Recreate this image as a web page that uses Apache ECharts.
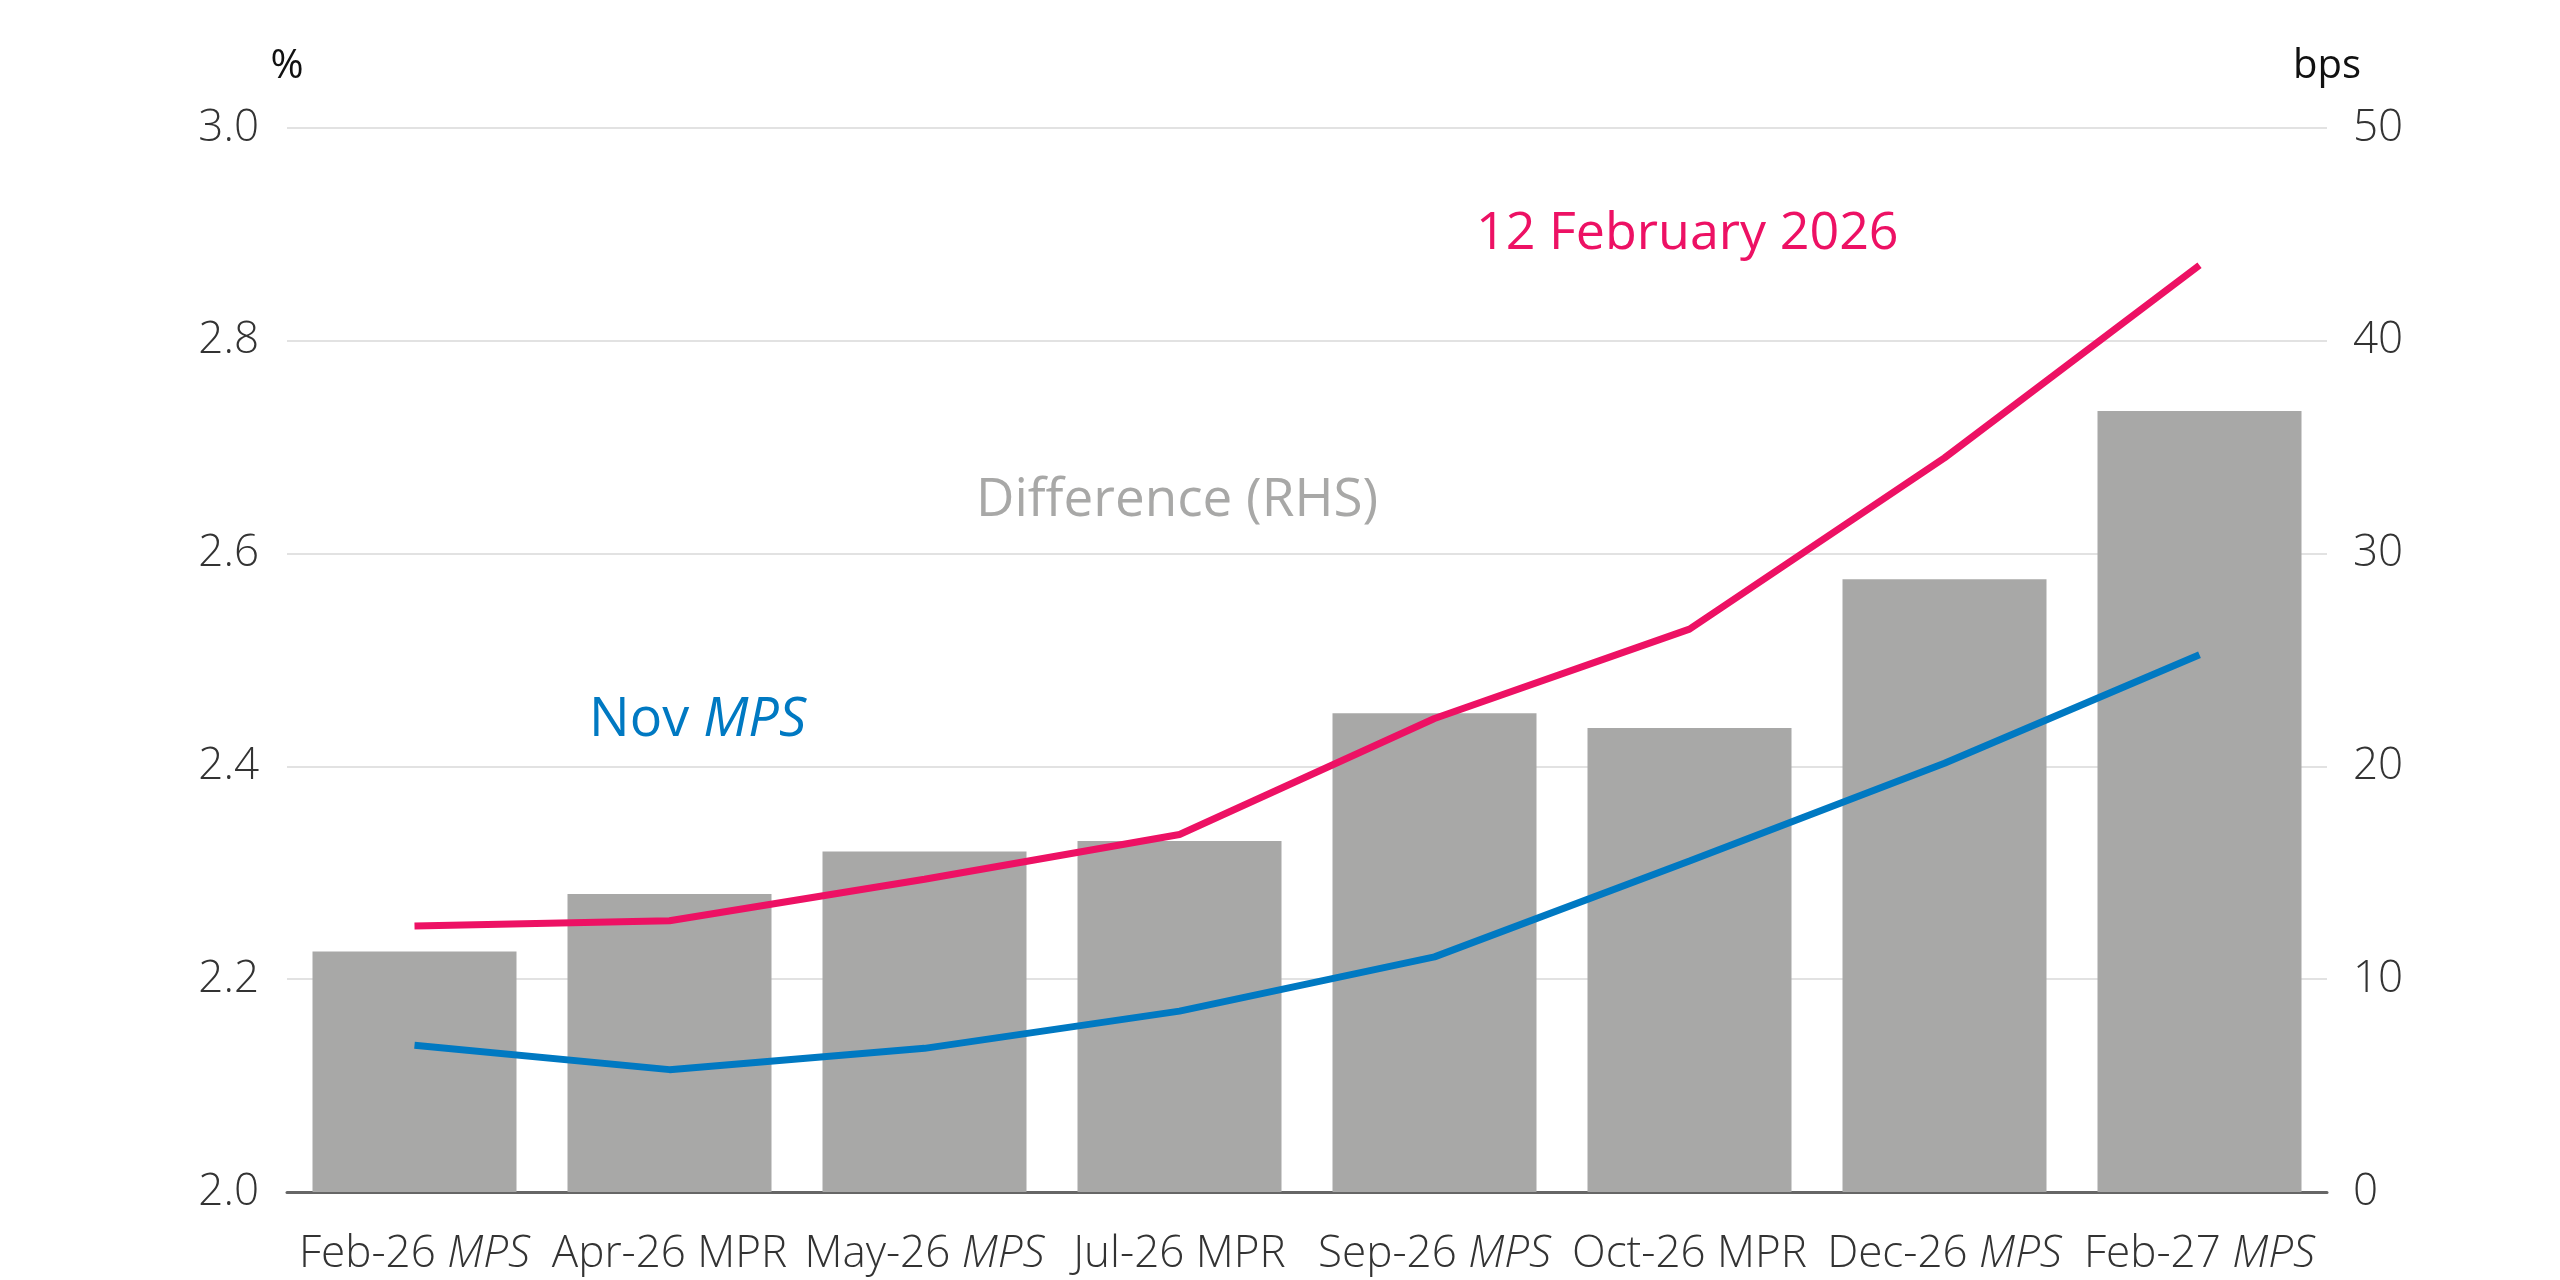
<!DOCTYPE html>
<html>
<head>
<meta charset="utf-8">
<title>Market rate path</title>
<script src="https://cdn.jsdelivr.net/npm/echarts@6/dist/echarts.min.js"></script>
<style>
body{
margin:0;
background:#fff;
}
#chart{
width:2560px;
height:1280px;
}
</style>
</head>
<body>

<div id="chart"></div>

<script>

// meeting dates on the x axis
const categories=['Feb-26 MPS','Apr-26 MPR','May-26 MPS','Jul-26 MPR','Sep-26 MPS','Oct-26 MPR','Dec-26 MPS','Feb-27 MPS']

// implied rate paths, %
const latest=[2.250,2.255,2.294,2.336,2.445,2.529,2.690,2.871]
const novMps=[2.138,2.115,2.135,2.170,2.221,2.311,2.403,2.505]

// difference, bps (right axis)
const diff=[11.3,14.0,16.0,16.5,22.5,21.8,28.8,36.7]

const font='"Open Sans", "Noto Sans", sans-serif'
const pink='#ed1164'
const blue='#0079c2'
const grey='#a8a8a7'

const chart=echarts.init(document.getElementById('chart'))

chart.setOption({

animation:false,

grid:{left:287,right:233,top:128,bottom:88},

xAxis:{
type:'category',
data:categories,
axisLine:{lineStyle:{color:'#666',width:3}},
axisTick:{length:15,lineStyle:{color:'#444',width:2}},
axisLabel:{
interval:0,
margin:40,
fontFamily:font,
fontSize:44,
fontWeight:300,
color:'#333',
formatter:function(v){
const parts=v.split(' ')
if(parts[1]==='MPS'){
return '{a|'+parts[0]+' }{i|MPS}'
}
return '{a|'+v+'}'
},
rich:{
a:{fontFamily:font,fontSize:44,fontWeight:300,color:'#333'},
i:{fontFamily:font,fontSize:44,fontWeight:300,fontStyle:'italic',color:'#333'}
}
}
},

yAxis:[
{
type:'value',
min:2,
max:3,
interval:0.2,
name:'%',
nameLocation:'end',
nameGap:61,
nameTextStyle:{fontFamily:font,fontSize:40,color:'#111',align:'center',verticalAlign:'middle'},
axisLine:{show:false},
axisTick:{show:false},
splitLine:{lineStyle:{color:'#e2e2e2',width:2}},
axisLabel:{
margin:28,
fontFamily:font,
fontSize:44,
fontWeight:300,
color:'#333',
formatter:function(v){return v.toFixed(1)}
}
},
{
type:'value',
min:0,
max:50,
interval:10,
name:'bps',
nameLocation:'end',
nameGap:61,
nameTextStyle:{fontFamily:font,fontSize:40,color:'#111',align:'center',verticalAlign:'middle'},
axisLine:{show:false},
axisTick:{show:false},
splitLine:{show:false},
axisLabel:{
margin:26,
fontFamily:font,
fontSize:44,
fontWeight:300,
color:'#333'
}
}
],

series:[
{
name:'Difference (RHS)',
type:'bar',
yAxisIndex:1,
data:diff,
barCategoryGap:'20%',
itemStyle:{color:grey},
z:1
},
{
name:'12 February 2026',
type:'line',
data:latest,
symbol:'none',
lineStyle:{color:pink,width:7},
z:3
},
{
name:'Nov MPS',
type:'line',
data:novMps,
symbol:'none',
lineStyle:{color:blue,width:7},
z:3
}
],

graphic:[
{
type:'text',
left:1476,
top:208,
style:{text:'12 February 2026',fill:pink,font:'400 52px '+font}
},
{
type:'text',
left:976,
top:474,
style:{text:'Difference (RHS)',fill:grey,font:'400 53px '+font}
},
{
type:'text',
left:589,
top:694,
style:{
text:'{a|Nov }{i|MPS}',
rich:{
a:{fill:blue,fontFamily:font,fontSize:54},
i:{fill:blue,fontFamily:font,fontSize:54,fontStyle:'italic'}
}
}
}
]

})

</script>

</body>
</html>
